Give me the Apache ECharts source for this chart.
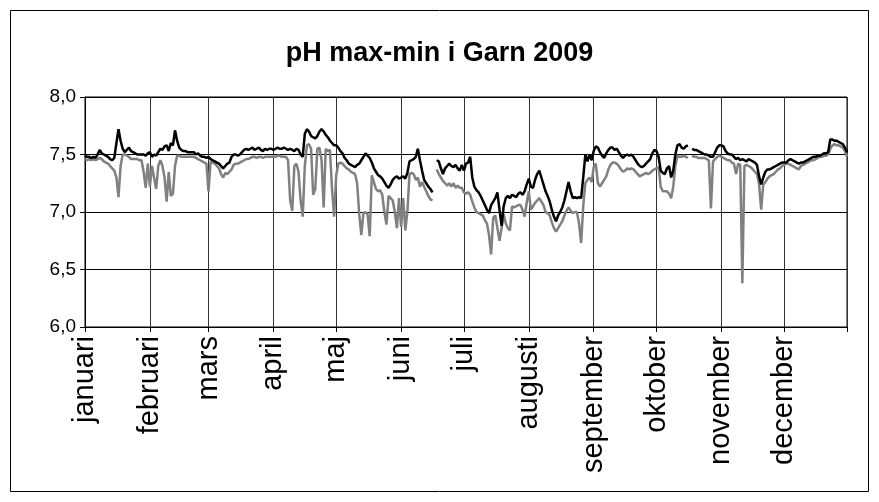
<!DOCTYPE html>
<html>
<head>
<meta charset="utf-8">
<script src="https://cdn.jsdelivr.net/npm/echarts@6/dist/echarts.min.js"></script>
<style>
html,body{margin:0;padding:0;background:#fff;}
#chart{width:879px;height:502px;}
</style>
</head>
<body>
<div id="chart"></div>
<script>
const chartTitle = 'pH max-min i Garn 2009';
const monthNames = ['januari','februari','mars','april','maj','juni','juli','augusti','september','oktober','november','december'];
const monthDays = [31,28,31,30,31,30,31,31,30,31,30,31];
const yTicks = [6.0, 6.5, 7.0, 7.5, 8.0];

// daily pH maximum, one row per month
const phMax = [
 7.49,7.48,7.48,7.47,7.48,7.47,7.50,7.54,7.51,7.50,7.49,7.48,7.46,7.45,7.47,7.60,7.72,7.62,7.55,7.52,7.54,7.56,7.53,7.52,7.51,7.50,7.50,7.50,7.50,7.49,7.51,
 7.52,7.48,7.50,7.49,7.52,7.55,7.54,7.57,7.58,7.53,7.60,7.58,7.71,7.62,7.56,7.54,7.53,7.53,7.52,7.52,7.52,7.52,7.50,7.51,7.49,7.48,7.48,7.47,
 7.48,7.46,7.45,7.44,7.43,7.42,7.40,7.38,7.40,7.42,7.43,7.48,7.50,7.50,7.49,7.50,7.52,7.54,7.55,7.54,7.55,7.56,7.54,7.55,7.56,7.54,7.53,7.55,7.54,7.55,7.55,
 7.54,7.55,7.56,7.55,7.55,7.56,7.55,7.54,7.55,7.54,7.53,7.55,7.54,7.50,7.48,7.68,7.72,7.70,7.66,7.65,7.64,7.66,7.70,7.72,7.70,7.67,7.65,7.62,7.60,7.58,
 7.58,7.56,7.53,7.51,7.47,7.45,7.42,7.41,7.40,7.39,7.41,7.42,7.45,7.48,7.51,7.49,7.47,7.43,7.38,7.35,7.32,7.31,7.29,7.26,7.23,7.21,7.24,7.28,7.30,7.31,7.29,
 7.30,7.31,7.29,7.34,7.44,7.45,7.46,7.48,7.55,7.45,7.36,7.28,7.25,7.22,7.20,7.17,null,7.45,7.44,7.38,7.33,7.38,7.40,7.42,7.40,7.39,7.41,7.38,7.36,7.41,
 7.36,7.42,7.43,7.48,7.30,7.22,7.19,7.17,7.14,7.10,7.06,7.02,6.99,7.06,7.09,7.12,7.17,7.02,6.88,7.05,7.12,7.14,7.12,7.15,7.14,7.13,7.16,7.17,7.15,7.18,7.24,
 7.29,7.22,7.21,7.28,7.33,7.36,7.30,7.24,7.18,7.14,7.09,7.02,6.96,6.92,6.97,7.00,7.04,7.10,7.18,7.26,7.18,7.12,7.13,7.12,7.13,7.12,7.30,7.50,7.44,7.50,7.45,
 7.53,7.57,7.56,7.52,7.49,7.47,7.51,7.54,7.56,7.56,7.54,7.55,7.52,7.49,7.47,7.49,7.50,7.49,7.50,7.48,7.45,7.42,7.40,7.39,7.40,7.42,7.44,7.46,7.51,7.54,
 7.53,7.48,7.36,7.34,7.33,7.38,7.40,7.30,7.36,7.50,7.58,7.59,7.56,7.55,7.57,7.58,null,7.55,7.54,7.54,7.53,7.52,7.51,7.50,7.50,7.49,7.48,7.48,7.52,7.56,7.58,
 7.58,7.57,7.53,7.51,7.50,7.50,7.48,7.46,7.47,7.45,7.46,7.45,7.44,7.46,7.45,7.44,7.43,7.41,7.31,7.24,7.30,7.35,7.37,7.37,7.38,7.39,7.40,7.41,7.42,7.43,
 7.43,7.43,7.45,7.46,7.45,7.44,7.43,7.42,7.43,7.43,7.44,7.45,7.46,7.47,7.48,7.48,7.49,7.49,7.50,7.51,7.51,7.52,7.63,7.63,7.62,7.62,7.61,7.60,7.59,7.56,7.52
];

// daily pH minimum, one row per month
const phMin = [
 7.46,7.45,7.46,7.45,7.46,7.45,7.46,7.47,7.46,7.44,7.43,7.42,7.40,7.38,7.36,7.30,7.13,7.40,7.50,7.50,7.49,7.48,7.46,7.46,7.46,7.46,7.45,7.45,7.35,7.21,7.42,
 7.22,7.40,7.30,7.20,7.40,7.45,7.40,7.30,7.09,7.35,7.14,7.16,7.40,7.49,7.49,7.48,7.48,7.48,7.48,7.48,7.48,7.48,7.47,7.46,7.45,7.44,7.43,7.42,
 7.18,7.44,7.43,7.42,7.40,7.38,7.33,7.30,7.34,7.33,7.35,7.37,7.41,7.42,7.42,7.43,7.44,7.45,7.46,7.46,7.47,7.48,7.48,7.47,7.48,7.48,7.47,7.48,7.48,7.48,7.48,
 7.48,7.48,7.49,7.49,7.48,7.48,7.48,7.45,7.10,7.01,7.40,7.42,7.35,7.10,6.96,7.40,7.58,7.59,7.55,7.15,7.20,7.55,7.56,7.45,7.04,7.55,7.53,7.54,7.20,6.96,
 7.32,7.42,7.43,7.42,7.40,7.38,7.37,7.35,7.34,7.33,7.25,6.98,6.80,6.99,7.00,6.98,6.79,7.32,7.26,7.20,7.18,7.19,7.15,7.00,6.89,7.14,7.12,7.10,7.00,6.86,7.12,
 6.87,7.12,6.84,7.00,7.33,7.34,7.33,7.28,7.30,7.22,7.26,7.22,7.18,7.14,7.11,7.10,null,7.37,7.33,7.30,7.27,7.25,7.23,7.25,7.22,7.25,7.21,7.23,7.21,7.21,
 7.17,7.16,7.17,7.15,7.09,7.04,7.00,6.99,6.98,6.97,6.93,6.90,6.80,6.63,6.95,6.97,6.86,6.75,6.86,6.98,6.90,6.86,6.84,7.05,7.04,7.05,7.06,7.06,7.02,6.96,7.08,
 7.18,7.02,7.05,7.08,7.10,7.12,7.09,7.06,7.00,6.99,6.97,6.91,6.86,6.83,6.86,6.89,6.92,6.97,7.01,7.04,7.01,6.99,7.00,7.00,6.90,6.73,7.05,7.25,7.28,7.30,7.26,
 7.39,7.42,7.25,7.22,7.25,7.28,7.31,7.37,7.41,7.43,7.43,7.42,7.40,7.37,7.35,7.36,7.38,7.37,7.38,7.37,7.35,7.33,7.31,7.32,7.33,7.34,7.33,7.34,7.36,7.37,
 7.38,7.39,7.22,7.18,7.18,7.18,7.16,7.12,7.22,7.40,7.49,7.48,7.48,7.49,7.48,7.47,null,7.49,7.48,7.48,7.47,7.47,7.47,7.47,7.46,7.45,7.03,7.44,7.46,7.48,7.49,
 7.48,7.47,7.46,7.45,7.45,7.43,7.42,7.33,7.42,7.41,6.38,7.40,7.41,7.40,7.39,7.37,7.35,7.33,7.24,7.02,7.24,7.26,7.29,7.31,7.32,7.33,7.35,7.37,7.38,7.40,
 7.41,7.42,7.42,7.41,7.40,7.39,7.38,7.37,7.40,7.41,7.42,7.43,7.44,7.45,7.45,7.46,7.47,7.48,7.48,7.49,7.49,7.50,7.55,7.58,7.59,7.58,7.58,7.57,7.56,7.53,7.48
];

// build day categories and month start indices
const days = [];
const monthStart = {};
let idx = 0;
monthDays.forEach((n, m) => {
  monthStart[idx] = monthNames[m];
  for (let d = 1; d <= n; d++) { days.push(String(idx)); idx++; }
});
const lastIdx = days.length - 1;
const isTick = (i) => monthStart.hasOwnProperty(i) || i === lastIdx;

const chart = echarts.init(document.getElementById('chart'), null, {renderer: 'canvas'});
const font = '"Liberation Sans", Arial, sans-serif';
chart.setOption({
  animation: false,
  backgroundColor: '#fff',
  title: {
    text: chartTitle, left: 'center', top: 35,
    textStyle: {fontFamily: font, fontSize: 27, fontWeight: 'bold', color: '#000'}
  },
  graphic: [{
    type: 'rect', shape: {x: 10.5, y: 10.5, width: 858, height: 481},
    style: {fill: null, stroke: '#000', lineWidth: 1}, silent: true
  }],
  grid: {left: 85, right: 32, top: 97, bottom: 175, show: true, borderColor: '#000', borderWidth: 1},
  xAxis: {
    type: 'category', data: days, boundaryGap: false,
    axisLine: {lineStyle: {color: '#000', width: 1}},
    axisTick: {show: true, length: 5, interval: (i) => isTick(i), lineStyle: {color: '#000'}},
    axisLabel: {
      interval: (i) => monthStart.hasOwnProperty(i), rotate: 90, hideOverlap: false,
      formatter: (v, i) => monthStart[i] || '',
      fontFamily: font, fontSize: 29, color: '#000', margin: 9
    },
    splitLine: {show: true, interval: (i) => isTick(i), lineStyle: {color: '#333', width: 1}}
  },
  yAxis: {
    type: 'value', min: yTicks[0], max: yTicks[yTicks.length - 1], interval: 0.5,
    axisLine: {show: true, lineStyle: {color: '#000'}},
    axisTick: {show: true, length: 5, lineStyle: {color: '#000'}},
    axisLabel: {formatter: (v) => v.toFixed(1).replace('.', ','), fontFamily: font, fontSize: 19, color: '#000', margin: 9},
    splitLine: {show: true, lineStyle: {color: '#000', width: 1}}
  },
  series: [
    {name: 'max', type: 'line', data: phMax, showSymbol: false, connectNulls: false,
     lineStyle: {color: '#000', width: 2.5}, itemStyle: {color: '#000'}, z: 3},
    {name: 'min', type: 'line', data: phMin, showSymbol: false, connectNulls: false,
     lineStyle: {color: '#808080', width: 2.5}, itemStyle: {color: '#808080'}, z: 2}
  ]
});
</script>
</body>
</html>
